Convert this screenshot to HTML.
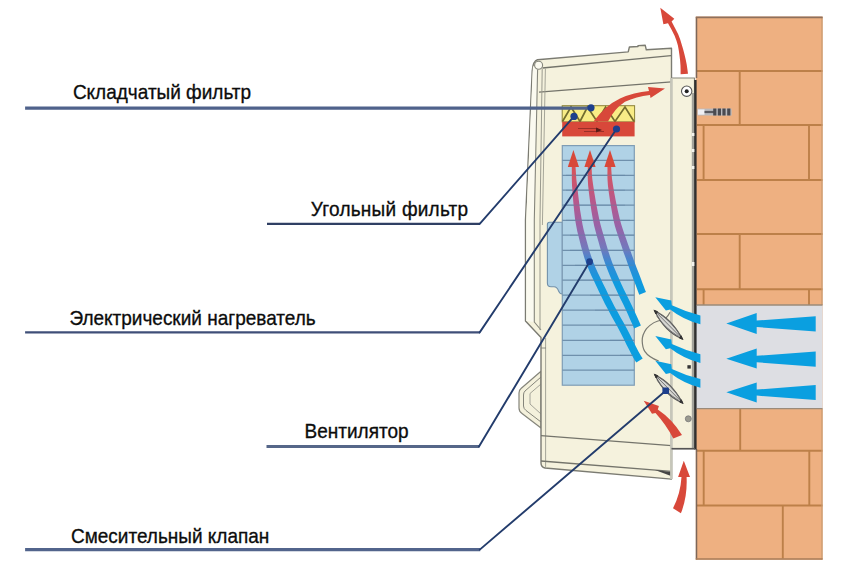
<!DOCTYPE html>
<html lang="ru">
<head>
<meta charset="utf-8">
<title>Схема приточной установки</title>
<style>
html,body{margin:0;padding:0;background:#fff;}
body{width:850px;height:575px;overflow:hidden;position:relative;font-family:"Liberation Sans",Arial,sans-serif;}
svg{position:absolute;left:0;top:0;display:block;}
.lbl{font-family:"Liberation Sans",Arial,sans-serif;font-size:19px;fill:#0c0c0c;stroke:#0c0c0c;stroke-width:0.3px;}
</style>
</head>
<body>
<svg width="850" height="575" viewBox="0 0 850 575">
<defs>
<linearGradient id="heat" gradientUnits="userSpaceOnUse" x1="0" y1="160" x2="0" y2="360">
<stop offset="0" stop-color="#df4c40"/>
<stop offset="0.06" stop-color="#d45460"/>
<stop offset="0.2" stop-color="#b8588a"/>
<stop offset="0.33" stop-color="#9862a6"/>
<stop offset="0.44" stop-color="#7478bc"/>
<stop offset="0.53" stop-color="#2d8cd6"/>
<stop offset="0.62" stop-color="#0f9bdf"/>
<stop offset="1" stop-color="#0a9fe0"/>
</linearGradient>
<filter id="soft" x="-5%" y="-5%" width="110%" height="110%"><feGaussianBlur stdDeviation="0.5"/></filter>
</defs>
<rect x="0" y="0" width="850" height="575" fill="#ffffff"/>

<!-- WALL -->
<g id="wall">
<rect x="695.8" y="16.6" width="126.8" height="543.1" fill="#eeb081"/>
<g stroke="#bd8049" stroke-width="1.9" fill="none">
<path d="M697 71H822.5M697 125H822.5M697 180H822.5M697 234H822.5M697 289.3H822.5M697 450.8H822.5M697 505.5H822.5"/>
<path d="M739.7 71V125M703.6 125V180M809 125V180M739.7 234V289.3M703.6 289.3V305M809 289.3V305M740.2 408.5V450.8M703.7 450.8V505.5M809.3 450.8V505.5M782.8 505.5V558.6"/>
<path d="M822 17V305M822 408.6V559.5" stroke="#c99a70" stroke-width="1.2"/><path d="M696.5 449V559.5M696.5 17V78" stroke="#7d675a" stroke-width="1.5"/><path d="M695.8 17.4H822.6" stroke="#8f705c" stroke-width="1.6"/><path d="M695.8 559H822.6" stroke="#a87c58" stroke-width="1.4"/>
</g>
<rect x="696" y="305" width="126.6" height="103.6" fill="#dddee3"/>
<path d="M697 305H822.5M697 408.6H822.5" stroke="#9a8a7a" stroke-width="1.4" fill="none"/>
</g>

<!-- duct arrows -->
<g fill="#0a9fe0">
<path d="M726.3 323.4L756.7 313V320.6L815.7 316.3V331.4L756.7 327V334Z"/>
<path d="M726.3 358.7L756.7 348.5V355.8L815.7 351.4V366.7L756.7 362.3V368.4Z"/>
<path d="M726.3 392.3L756.7 382.5V389.6L815.7 385V400L756.7 395.6V402.5Z"/>
</g>

<!-- anchor -->
<g id="anchor">
<rect x="697.4" y="108.6" width="34.2" height="6.9" fill="#b9b9bd"/>
<rect x="698" y="109.4" width="6.5" height="5.3" fill="#f0f0f4"/>
<path d="M704.5 112H714" stroke="#5a5a60" stroke-width="2.2"/>
<path d="M714.8 108.6V115.5M719.4 108.6V115.5M724 108.6V115.5M728.8 108.6V115.5" stroke="#4a4a50" stroke-width="3.2"/>
</g>

<!-- UNIT -->
<g id="unit" stroke-linejoin="round">
<!-- handle -->
<path d="M541 371.3L521 388.5Q519 390 519 393V408Q519 411.5 522 413.5L541 428Z" fill="#f4f1dc" stroke="#85857b" stroke-width="1.2"/>
<path d="M541 377L525 391Q523.5 392.5 523.5 395V406Q523.5 408.5 526 410.5L541 422" fill="none" stroke="#85857b" stroke-width="1"/>
<path d="M541 384L530 393.5V404L541 414" fill="none" stroke="#9a9a90" stroke-width="0.9"/>
<!-- main body -->
<path d="M537.5 59.8L628.2 51.9L629.4 47L638 46.5V45.6L645.2 45.2L646.3 49.8L671.5 48.3V479.1L545 468Q541 467 541 463V337.4L525.5 321V220L532.2 71Q533 61 537.5 59.8Z" fill="#f5f2dd" stroke="#7b7b72" stroke-width="1.4"/>
<path d="M533 66L537.6 69.5L534.3 220V322L526.2 321V220L532.6 72Z" fill="#fbfaf0"/>
<!-- top inner lines -->
<path d="M542.4 68L671 55.7M539 92.2L671.5 81.9" fill="none" stroke="#74746b" stroke-width="1.3"/>
<circle cx="538.6" cy="65.3" r="4" fill="#fbfaf0" stroke="#85857b" stroke-width="1.1"/>
<!-- left bevel lines -->
<path d="M537.6 69.5L534.3 220V322L541 330" fill="none" stroke="#85857b" stroke-width="1.1"/>
<path d="M542.2 69L540 220V330" fill="none" stroke="#9a9a8e" stroke-width="1"/>
<path d="M545.4 68.6L542.4 225M545.6 338V468" fill="none" stroke="#9c9c90" stroke-width="0.9"/>
<path d="M541 348H546" stroke="#85857b" stroke-width="0.9"/>
<!-- bottom lines -->
<path d="M541 435.7L671.5 445.6M541 461L671.5 471.3" fill="none" stroke="#74746b" stroke-width="1.3"/>
<path d="M655 470L671 476V472Z" fill="#444"/>
<!-- back panel -->
<path d="M671.5 78H694.5V448.7H671.5Z" fill="#f5f2dd" stroke="#85857b" stroke-width="1.2"/>
<path d="M671.4 78V479" stroke="#c6c6ba" stroke-width="2.6" fill="none"/>
<path d="M693 93V448" stroke="#a3a39b" stroke-width="2.4" fill="none"/><path d="M695.4 80V449.5" stroke="#303030" stroke-width="2.4" fill="none"/><path d="M691.8 133h2.6v3h-2.6zM691.8 149h2.6v3h-2.6zM691.8 166h2.6v3h-2.6zM691.8 262h2.6v4h-2.6z" fill="#f4f4ee"/>
<path d="M671.5 448.7H695" stroke="#555" stroke-width="1.6"/>
<!-- screws -->
<circle cx="686.7" cy="91.2" r="5.2" fill="#fff" stroke="#555" stroke-width="1.1"/>
<circle cx="686.7" cy="91.2" r="2" fill="#222"/>
<circle cx="688.3" cy="418.8" r="3" fill="#9a9a90" stroke="#777" stroke-width="0.8"/>
<rect x="687.4" y="365.2" width="3.4" height="3.4" fill="#333"/>
</g>

<!-- FILTERS -->
<g id="filters">
<rect x="562.2" y="105.7" width="72.4" height="16.2" fill="#f8ec86" stroke="#8a8238" stroke-width="1"/>
<path d="M562.5 121.5L571 107L580 121.5L587.5 107L597 121.5L605.6 107L615 121.5L625 107L634 121.5" fill="none" stroke="#726c2e" stroke-width="1.7"/>
<rect x="562.2" y="121.8" width="72.4" height="14.6" fill="#d8483a"/>
<path d="M578 128.5H598M584 131.5H604" stroke="#9a2f28" stroke-width="1"/>
<path d="M596 127.5L602 130L596 132.5Z" fill="#5a1c18"/>
</g>

<!-- BLUE PANEL -->
<g id="panel">
<path d="M562.3 222.2H549.5Q547.4 222.2 547.4 224.5V283Q547.4 286.8 551 286.8H554Q557.2 287 558.4 290.7Q559.5 294 562.3 294Z" fill="#b0d2e6" stroke="#7291aa" stroke-width="1.1"/>
<rect x="562.3" y="145.6" width="72" height="239.6" fill="#b0d2e6" stroke="#7f9db5" stroke-width="1.2"/>
<path d="M562.3 160.3H634.3M562.3 175.3H634.3M562.3 190.2H634.3M562.3 205.2H634.3M562.3 220.3H634.3M562.3 235.2H634.3M562.3 250.3H634.3M562.3 265.3H634.3M562.3 280.2H634.3M562.3 295.2H634.3M562.3 310.2H634.3M562.3 325.2H634.3M562.3 340.3H634.3M562.3 355.3H634.3M562.3 370.2H634.3" stroke="#6f90ac" stroke-width="1.2" fill="none"/>
</g>

<!-- gradient arrows -->
<g id="flow" fill="url(#heat)" stroke="none">
<path d="M571.8 165.1L571.8 169.7L571.8 174.2L571.8 179.1L572.0 185.2L572.6 193.1L573.3 202.2L574.2 211.5L575.1 219.5L576.2 225.7L577.2 230.9L578.4 235.8L579.7 240.9L581.1 246.4L582.7 252.2L584.4 258.0L586.4 263.8L588.7 269.6L591.3 275.4L594.0 281.1L596.7 286.7L599.4 292.4L602.2 298.2L605.0 303.9L608.0 309.6L611.0 315.3L614.2 321.0L617.3 326.6L620.3 332.2L623.4 338.2L626.4 344.4L629.3 350.1L631.7 354.8L633.3 357.8L634.5 359.7L635.3 361.0L636.3 362.5L642.7 358.5L641.7 356.9L640.9 355.7L639.9 354.0L638.3 351.2L636.0 346.7L633.1 341.0L630.0 334.8L626.9 328.8L623.8 323.1L620.6 317.4L617.5 311.8L614.4 306.2L611.5 300.6L608.6 294.9L605.9 289.3L603.1 283.7L600.4 278.0L597.7 272.4L595.2 266.9L593.0 261.4L591.0 255.8L589.2 250.2L587.6 244.6L586.1 239.1L584.8 234.1L583.6 229.5L582.5 224.5L581.5 218.5L580.2 210.7L579.0 201.6L577.9 192.6L577.0 184.8L576.3 178.9L576.0 174.1L575.7 169.6L575.4 164.9Z"/>
<path d="M587.8 165.1L587.8 169.7L587.7 174.2L587.8 179.2L588.1 185.3L589.0 193.2L590.2 202.4L591.5 211.6L592.9 219.6L594.2 225.9L595.5 231.1L596.8 235.9L598.3 240.9L599.8 246.5L601.5 252.2L603.2 258.0L605.2 263.8L607.4 269.6L609.7 275.3L612.2 281.0L614.8 286.7L617.5 292.5L620.3 298.4L623.1 304.1L625.7 309.4L628.0 314.4L630.0 319.2L632.1 323.8L634.1 328.5L640.9 325.5L638.8 320.8L636.8 316.2L634.6 311.4L632.3 306.4L629.6 300.9L626.8 295.2L623.9 289.4L621.2 283.7L618.7 278.1L616.3 272.5L613.9 266.9L611.8 261.4L609.8 255.8L608.0 250.2L606.3 244.6L604.7 239.1L603.2 234.0L601.8 229.3L600.5 224.4L599.1 218.4L597.5 210.6L595.8 201.5L594.3 192.4L593.1 184.7L592.3 178.9L591.9 174.1L591.7 169.6L591.4 164.9Z"/>
<path d="M607.4 165.1L607.5 169.7L607.4 174.2L607.5 179.2L607.9 185.3L608.9 193.2L610.3 202.4L611.9 211.7L613.4 219.7L614.9 226.0L616.5 231.2L618.1 236.0L619.8 241.1L621.7 246.6L623.6 252.4L625.7 258.1L627.7 263.8L629.9 269.8L632.2 276.1L634.4 281.8L636.2 286.5L637.3 289.5L638.0 291.5L638.6 293.0L639.2 294.7L646.0 292.1L645.3 290.4L644.7 288.9L644.0 287.0L642.8 283.9L641.1 279.3L638.9 273.5L636.5 267.4L634.3 261.4L632.2 255.7L630.1 250.0L628.1 244.4L626.2 238.9L624.4 233.9L622.8 229.2L621.2 224.3L619.6 218.3L617.8 210.5L615.9 201.4L614.2 192.4L612.9 184.7L612.0 178.8L611.6 174.0L611.3 169.6L611.0 164.9Z"/>
</g>
<path d="M566 175.3H625M566 190.2H625M566 205.2H625M566 220.3H630M570 235.2H634M570 250.3H634M575 265.3H634M580 280.2H634M590 295.2H634M595 310.2H634M600 325.2H634M610 340.3H634M620 355.3H634" stroke="#5f83a3" stroke-width="1.1" opacity="0.45" fill="none"/>
<g fill="#d8483a">
<path d="M573.4 150L579 167H567.8Z"/>
<path d="M590 150L595.6 167H584.4Z"/>
<path d="M610 150L615.6 167H604.4Z"/>
</g>

<!-- valves -->
<g id="valves">
<path d="M670 312.2Q666.5 319 662.2 320Q653.5 321 646.5 328.7Q642 335 642.2 341Q642.5 348 644.8 351.3Q648.5 357 658.7 361" fill="none" stroke="#7a7a72" stroke-width="1.2"/>
<g id="v1">
<path d="M654.6 310.7Q671.5 318.5 682.4 339Q664.5 331.5 654.6 310.7Z" fill="#d6d6d2" stroke="#555" stroke-width="1.1"/>
<path d="M657 313.2L680.5 337M659.5 313.8Q671 321 680 334.5M656.8 316Q665 328 678.5 336.5" stroke="#6a6a6a" stroke-width="0.9" fill="none"/>
<path d="M654.3 310.4l3.2 1.2l-1.6 2.4Z M682.7 339.3l-3.2-1.2l1.6-2.4Z" fill="#333" stroke="#333" stroke-width="1"/>
</g>
<g transform="translate(0.2 64)">
<path d="M654.6 310.7Q671.5 318.5 682.4 339Q664.5 331.5 654.6 310.7Z" fill="#d6d6d2" stroke="#555" stroke-width="1.1"/>
<path d="M657 313.2L680.5 337M659.5 313.8Q671 321 680 334.5M656.8 316Q665 328 678.5 336.5" stroke="#6a6a6a" stroke-width="0.9" fill="none"/>
<path d="M654.3 310.4l3.2 1.2l-1.6 2.4Z M682.7 339.3l-3.2-1.2l1.6-2.4Z" fill="#333" stroke="#333" stroke-width="1"/>
</g>
</g>

<!-- blue curved arrows -->
<g fill="#0a9fe0">
<path d="M655.3 297.2L671.3 300.6L671.8 305.3Q686 312 700.4 315.4V324.2Q683 319.5 670.2 309.4L665.9 310.4Z"/>
<path d="M655.3 297.2L671.3 300.6L671.8 305.3Q686 312 700.4 315.4V324.2Q683 319.5 670.2 309.4L665.9 310.4Z" transform="translate(0 38.8)"/>
<path d="M655.3 297.2L671.3 300.6L671.8 305.3Q686 312 700.4 315.4V324.2Q683 319.5 670.2 309.4L665.9 310.4Z" transform="translate(0 63.6)"/>
</g>

<!-- red arrows -->
<g fill="#d8483a">
<!-- top vertical -->
<path d="M688 73.7L687.4 69.3L686.7 64.6L685.7 59.6L684.5 54.5L683.2 49.5L681.7 44.5L680.2 39.6L678.2 34.2L675 27.9L671.6 21.4L674.3 18.8L660.3 7.8L663.4 24.3L668 23.2L671.6 29.7L674.6 35.8L676.5 40.8L677.9 45.5L678.8 50.5L679.5 55.5L680.1 60.5L680.5 65.4L680.6 69.8L680.6 74.3Z"/>
<!-- top horizontal -->
<path d="M665 88.5L650.5 98L650 95Q636 96.5 625 101.8Q614.5 108.5 608 121.6H593.5Q605 105.5 620 98.4Q634 92.3 649 91L648 87Z"/>
<!-- lower inside -->
<path d="M643.7 400.7L658.9 405.9L657.8 409.5Q672 419 682 435L673.3 438.5Q666 424.5 655.5 413L652 413.7Z"/>
<!-- bottom outside -->
<path d="M683.8 460.7L690 477.1H686.6Q687.5 497 680.9 513.3L673 508.2Q680.5 494 681.5 477.1H678.1Z"/>
</g>

<!-- label lines -->
<g fill="none">
<path d="M25.1 108.1H591" stroke="#4f628b" stroke-width="3.2"/>
<path d="M267 223.9H480" stroke="#2f3f63" stroke-width="2.2"/>
<path d="M25.1 332.4H480" stroke="#3f4f78" stroke-width="2.3"/>
<path d="M266.5 446.5H479.3" stroke="#566789" stroke-width="2.8"/>
<path d="M25.1 549.6H480.2" stroke="#52648c" stroke-width="3.1"/>
</g>
<g fill="none" stroke="#233c6c" stroke-width="1.9" stroke-linecap="round">
<path d="M479.7 223.9L574 116.4"/>
<path d="M479.7 332.4L616.5 129"/>
<path d="M479 446.5L589.6 261.7"/>
<path d="M479.8 549.6L665.7 390.8"/>
</g>
<g fill="#1d3f8c">
<circle cx="591" cy="107.8" r="3.6"/>
<circle cx="574" cy="116.4" r="3.6"/>
<circle cx="616.5" cy="129" r="3.6"/>
<circle cx="589.6" cy="261.7" r="3.4"/>
<rect x="662.4" y="387.5" width="6.6" height="6.6" rx="1.2"/>
</g>

<!-- labels -->
<text class="lbl" transform="translate(0 99.0) scale(1 1.05)" x="72.9" y="0">Складчатый фильтр</text>
<text class="lbl" transform="translate(0 215.8) scale(1 1.05)" x="310.8" y="0" letter-spacing="0.25">Угольный фильтр</text>
<text class="lbl" transform="translate(0 324.5) scale(1 1.05)" x="69.4" y="0">Электрический нагреватель</text>
<text class="lbl" transform="translate(0 438.4) scale(1 1.05)" x="304.6" y="0">Вентилятор</text>
<text class="lbl" transform="translate(0 542.6) scale(1 1.05)" x="71" y="0">Смесительный клапан</text>
</svg>
</body>
</html>
